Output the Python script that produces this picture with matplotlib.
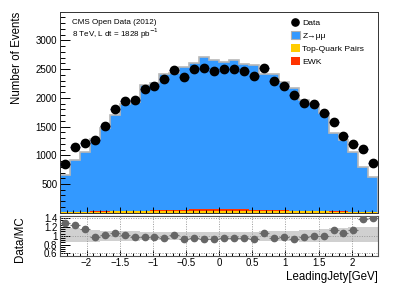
import numpy as np
import matplotlib
matplotlib.use('Agg')
import matplotlib.pyplot as plt
from matplotlib.lines import Line2D
from matplotlib.patches import Patch
from matplotlib.ticker import MultipleLocator

plt.rcParams['font.family'] = ['Liberation Sans', 'DejaVu Sans']

# --- Binning ---
bin_edges = np.linspace(-2.4, 2.4, 33)
bin_centers = 0.5 * (bin_edges[:-1] + bin_edges[1:])

# --- Histogram contents ---
data_counts = [845, 1136, 1216, 1263, 1507, 1808, 1942, 1954, 2157, 2198, 2326, 2482,
               2355, 2500, 2523, 2470, 2505, 2505, 2465, 2383, 2517, 2291, 2204, 2041,
               1913, 1885, 1739, 1577, 1333, 1199, 1106, 868]
zmumu = [635, 892, 1037, 1253, 1445, 1672, 1864, 1896, 2192, 2213, 2373, 2378,
         2480, 2552, 2644, 2602, 2562, 2599, 2537, 2515, 2368, 2373, 2233, 2142,
         1921, 1854, 1712, 1360, 1238, 1040, 780, 607]
top_pairs = [12, 14, 16, 18, 20, 22, 24, 26, 28, 30, 32, 34, 35, 36, 37, 38,
             38, 37, 36, 35, 34, 32, 30, 28, 26, 24, 22, 20, 18, 16, 14, 12]
ewk = [3, 3, 4, 4, 5, 6, 7, 8, 10, 12, 15, 18, 20, 22, 24, 25,
       25, 24, 22, 20, 18, 15, 12, 10, 8, 7, 6, 5, 4, 4, 3, 3]

# --- Ratio panel ---
ratio = [1.30, 1.25, 1.15, 0.98, 1.03, 1.07, 1.02, 0.98, 0.97, 0.97, 0.96, 1.03,
         0.93, 0.96, 0.93, 0.93, 0.96, 0.94, 0.96, 0.93, 1.07, 0.94, 0.97, 0.93,
         0.98, 1.00, 1.00, 1.14, 1.06, 1.13, 1.39, 1.40]
band_up = [0.18, 0.17, 0.15, 0.13, 0.12, 0.11, 0.10, 0.10, 0.09, 0.09, 0.09, 0.09,
           0.09, 0.09, 0.09, 0.09, 0.09, 0.09, 0.09, 0.09, 0.10, 0.10, 0.11, 0.12,
           0.13, 0.14, 0.15, 0.17, 0.18, 0.19, 0.20, 0.21]
band_dn = [0.14, 0.14, 0.13, 0.13, 0.12, 0.12, 0.11, 0.11, 0.10, 0.10, 0.10, 0.10,
           0.10, 0.10, 0.10, 0.10, 0.10, 0.10, 0.10, 0.10, 0.11, 0.11, 0.12, 0.12,
           0.13, 0.13, 0.13, 0.14, 0.14, 0.14, 0.14, 0.14]

c_z = '#3399ff'
c_top = '#ffcc00'
c_ewk = '#ff3300'

fig = plt.figure(figsize=(3.98, 2.87), dpi=100)
W, H = 398.0, 287.0
ax = fig.add_axes([60 / W, 1 - 212.7 / H, 318.3 / W, 201.0 / H])
axr = fig.add_axes([60 / W, 1 - 255.7 / H, 318.3 / W, 39.7 / H])

# stacked MC
w = np.diff(bin_edges)
ax.bar(bin_centers, top_pairs, width=w, color=c_top, linewidth=0)
ax.bar(bin_centers, ewk, width=w, bottom=top_pairs, color=c_ewk, linewidth=0)
base = np.array(top_pairs) + np.array(ewk)
ax.bar(bin_centers, zmumu, width=w, bottom=base, color=c_z, linewidth=0)
total = base + np.array(zmumu)
ax.stairs(total, bin_edges, color='#b8b8b8', linewidth=1.2)

# data points
ax.errorbar(bin_centers, data_counts, xerr=w / 2, yerr=np.sqrt(data_counts),
            fmt='o', color='black', ms=6.0, ecolor='#2b2b9c', elinewidth=0.8,
            capsize=0, zorder=5)

ax.set_xlim(-2.4, 2.4)
ax.set_ylim(0, 3500)
ax.xaxis.set_major_locator(MultipleLocator(0.5))
ax.xaxis.set_minor_locator(MultipleLocator(0.1))
ax.set_yticks([500, 1000, 1500, 2000, 2500, 3000])
ax.yaxis.set_minor_locator(MultipleLocator(100))
ax.tick_params(axis='y', which='major', direction='in', length=7, width=0.7, labelsize=7, pad=2)
ax.tick_params(axis='y', which='minor', direction='in', length=3.5, width=0.7)
ax.tick_params(axis='x', which='major', direction='in', length=4, width=0.7, labelbottom=False)
ax.tick_params(axis='x', which='minor', direction='in', length=2, width=0.7)
for s in ax.spines.values():
    s.set_linewidth(0.7)
    s.set_color('#333333')

ax.set_ylabel('Number of Events', fontsize=8.3, loc='top')
ax.yaxis.set_label_coords(-0.117, 1.0)

ax.text(71.7 / W, 1 - 22.3 / H, 'CMS Open Data (2012)', transform=fig.transFigure,
        fontsize=5.8, ha='left', va='center')
ax.text(71.7 / W, 1 - 33.7 / H, r'8 TeV, L dt = 1828 pb$^{-1}$', transform=fig.transFigure,
        fontsize=5.8, ha='left', va='center')

handles = [
    Line2D([], [], marker='o', color='black', linestyle='none', ms=5.2),
    Patch(facecolor=c_z, edgecolor='#b0b0b0', linewidth=0.8),
    Patch(facecolor=c_top, edgecolor='none'),
    Patch(facecolor=c_ewk, edgecolor='none'),
]
labels = ['Data', 'Z\u2192\u03bc\u03bc', 'Top-Quark Pairs', 'EWK']
leg = ax.legend(handles, labels, loc='upper left', bbox_to_anchor=(291 / W, 1 - 18.5 / H),
                bbox_transform=fig.transFigure, frameon=False, fontsize=6.1,
                handlelength=1.05, handleheight=1.0, handletextpad=0.3,
                labelspacing=0.5, borderpad=0, borderaxespad=0)

# ratio panel
axr.fill_between(bin_edges, np.r_[1 - np.array(band_dn), 1 - band_dn[-1]],
                 np.r_[1 + np.array(band_up), 1 + band_up[-1]], step='post',
                 color='#d0d0d0', linewidth=0, zorder=1)
for yv in [0.6, 1.0, 1.4]:
    axr.axhline(yv, color='#999999', linestyle=(0, (1, 1.5)), linewidth=0.7, zorder=2)
for xv in np.arange(-2.0, 2.01, 0.5):
    axr.axvline(xv, color='#999999', linestyle=(0, (1, 1.5)), linewidth=0.7, zorder=2)
axr.errorbar(bin_centers, ratio, xerr=w / 2, fmt='o', color='#666666', ms=4.5,
             ecolor='#777777', elinewidth=0.8, capsize=0, zorder=5)
axr.set_xlim(-2.4, 2.4)
axr.set_ylim(0.55, 1.45)
axr.set_yticks([0.6, 0.8, 1.0, 1.2, 1.4])
axr.set_yticklabels(['0.6', '0.8', '1', '1.2', '1.4'])
axr.yaxis.set_minor_locator(MultipleLocator(0.05))
axr.set_xticks(np.arange(-2.0, 2.01, 0.5))
axr.xaxis.set_minor_locator(MultipleLocator(0.1))
axr.set_xticklabels(['\u22122', '\u22121.5', '\u22121', '\u22120.5', '0', '0.5', '1', '1.5', '2'])
axr.tick_params(axis='y', which='major', direction='in', length=7, width=0.7, labelsize=7, pad=2)
axr.tick_params(axis='y', which='minor', direction='in', length=3.5, width=0.7)
axr.tick_params(axis='x', which='major', direction='in', length=4, width=0.7, labelsize=7, pad=2)
axr.tick_params(axis='x', which='minor', direction='in', length=2, width=0.7)
for s in axr.spines.values():
    s.set_linewidth(0.8)
    s.set_color('#555555')

axr.set_ylabel('Data/MC', fontsize=8.3, loc='top')
axr.yaxis.set_label_coords(-0.106, 1.0)
fig.text(378 / W, 1 - 276.7 / H, 'LeadingJety[GeV]', fontsize=8.3, ha='right', va='center')

fig.savefig('out.png', dpi=100)
